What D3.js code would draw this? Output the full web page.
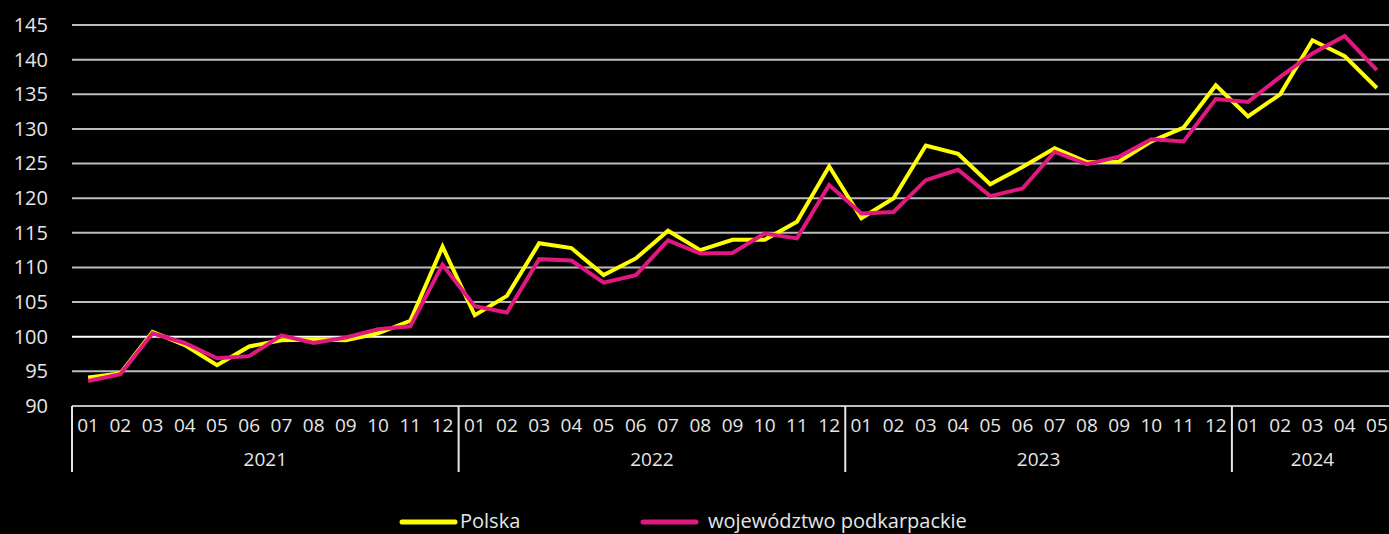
<!DOCTYPE html>
<html>
<head>
<meta charset="utf-8">
<script src="https://cdn.jsdelivr.net/npm/d3@7"></script>
<style>
  html, body { margin: 0; padding: 0; background: #000; }
  svg { display: block; }
  text { font-family: "Open Sans", "Noto Sans", sans-serif; fill: #e6e6e6; }
</style>
</head>
<body>
<svg id="chart" width="1389" height="534"></svg>
<script>
// Data: monthly values 01.2021 - 05.2024
var years = ["2021", "2022", "2023", "2024"];
var monthsPerYear = [12, 12, 12, 5];
var monthLabels = ["01","02","03","04","05","06","07","08","09","10","11","12"];

var polska = [
  94.1, 94.7, 100.7, 98.8, 95.9, 98.6, 99.5, 99.6, 99.5, 100.5, 102.3, 113.0,
  103.1, 105.9, 113.5, 112.8, 108.9, 111.3, 115.3, 112.5, 114.0, 114.0, 116.6, 124.6,
  117.1, 120.0, 127.6, 126.4, 122.0, 124.5, 127.2, 125.2, 125.3, 128.2, 130.2, 136.3,
  131.8, 135.0, 142.8, 140.5, 135.9
];
var podkarpackie = [
  93.6, 94.6, 100.5, 99.1, 96.9, 97.2, 100.2, 99.1, 99.9, 101.1, 101.5, 110.4,
  104.4, 103.5, 111.2, 111.0, 107.8, 108.9, 113.9, 112.0, 112.1, 114.9, 114.2, 121.9,
  117.8, 118.0, 122.6, 124.1, 120.3, 121.4, 126.7, 124.9, 126.0, 128.5, 128.2, 134.3,
  133.9, 137.5, 140.9, 143.4, 138.5
];

var yTicks = [90, 95, 100, 105, 110, 115, 120, 125, 130, 135, 140, 145];

var seriesNames = ["Polska", "województwo podkarpackie"];
var seriesColors = ["#ffff00", "#e0187f"];

// Build the list of month keys
var periods = [];
years.forEach(function(yr, i) {
  for (var m = 0; m < monthsPerYear[i]; m++) {
    periods.push({key: yr + "-" + monthLabels[m], year: yr, month: monthLabels[m]});
  }
});

var svg = d3.select("#chart");

// Figure dimensions (the last band runs a little past the right edge)
var plotLeft = 72, plotRight = 1393, plotTop = 25, plotBottom = 406;

// Scales
var x = d3.scaleBand()
    .domain(periods.map(function(d) { return d.key; }))
    .range([plotLeft, plotRight])
    .padding(0);

var y = d3.scaleLinear()
    .domain([90, 145])
    .range([plotBottom, plotTop]);

// Gridlines
svg.append("g")
    .selectAll("line")
    .data(yTicks)
    .enter()
    .append("line")
    .attr("x1", plotLeft)
    .attr("x2", plotRight)
    .attr("y1", function(d) { return y(d); })
    .attr("y2", function(d) { return y(d); })
    .style("stroke", function(d) { return d === 100 ? "#ffffff" : "#bdbdbd"; })
    .style("stroke-width", 2);

// Y axis labels
var yAxis = svg.append("g")
    .attr("transform", "translate(" + plotLeft + ",0)")
    .call(d3.axisLeft(y).tickValues(yTicks).tickSize(0).tickPadding(24));
yAxis.select(".domain").remove();
yAxis.selectAll("text")
    .style("font-size", "20px")
    .style("fill", "#e6e6e6")
    .style("font-family", "'Open Sans', sans-serif");

// X axis month labels
svg.append("g")
    .selectAll("text")
    .data(periods)
    .enter()
    .append("text")
    .attr("x", function(d) { return x(d.key) + x.bandwidth() / 2; })
    .attr("y", 432)
    .attr("text-anchor", "middle")
    .style("font-size", "19px")
    .text(function(d) { return d.month; });

// Year groups: separators and labels
var yearGroups = years.map(function(yr, i) {
  var first = periods.filter(function(p) { return p.year === yr; });
  return {
    year: yr,
    x0: x(first[0].key),
    x1: x(first[first.length - 1].key) + x.bandwidth()
  };
});

svg.append("g")
    .selectAll("line")
    .data(yearGroups)
    .enter()
    .append("line")
    .attr("x1", function(d) { return d.x0; })
    .attr("x2", function(d) { return d.x0; })
    .attr("y1", plotBottom)
    .attr("y2", 472)
    .style("stroke", "#e6e6e6")
    .style("stroke-width", 2);

svg.append("g")
    .selectAll("text")
    .data(yearGroups)
    .enter()
    .append("text")
    .attr("x", function(d) { return (d.x0 + d.x1) / 2; })
    .attr("y", 466)
    .attr("text-anchor", "middle")
    .style("font-size", "19px")
    .text(function(d) { return d.year; });

// Lines
var line = d3.line()
    .x(function(d, i) { return x(periods[i].key) + x.bandwidth() / 2; })
    .y(function(d) { return y(d); });

[polska, podkarpackie].forEach(function(s, i) {
  svg.append("path")
      .datum(s)
      .attr("d", line)
      .style("fill", "none")
      .style("stroke", seriesColors[i])
      .style("stroke-width", 4)
      .style("stroke-linejoin", "miter");
});

// Legend
var legendX = [402, 643];
var legend = svg.append("g")
    .selectAll("g")
    .data(seriesNames)
    .enter()
    .append("g")
    .attr("transform", function(d, i) { return "translate(" + legendX[i] + ",522)"; });

legend.append("line")
    .attr("x1", 0)
    .attr("x2", 53)
    .attr("y1", 0)
    .attr("y2", 0)
    .style("stroke", function(d, i) { return seriesColors[i]; })
    .style("stroke-width", 5)
    .style("stroke-linecap", "round");

legend.append("text")
    .attr("x", function(d, i) { return i === 0 ? 58 : 65; })
    .attr("y", 6)
    .style("font-size", "20px")
    .text(function(d) { return d; });
</script>
</body>
</html>
